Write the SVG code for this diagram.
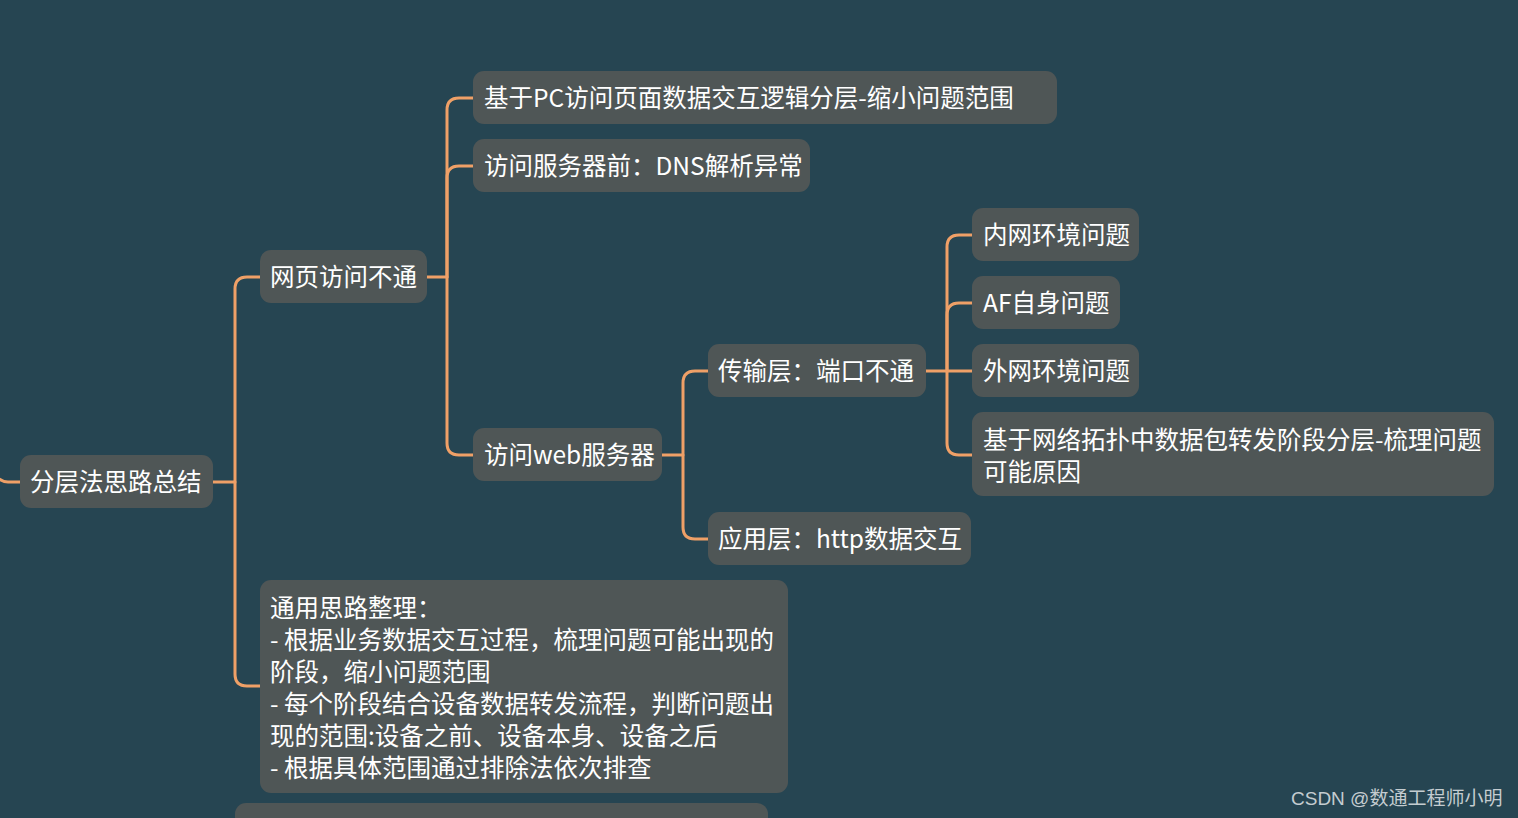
<svg xmlns="http://www.w3.org/2000/svg" width="1518" height="818" viewBox="0 0 1518 818">
<style>
.bg{fill:#264552}
.n{fill:#4f5656}
.t{font-family:"Noto Sans CJK SC","Noto Sans",sans-serif;font-size:24.5px;fill:#ffffff}
.c{fill:none;stroke:#efa067;stroke-width:3;stroke-linecap:round;stroke-linejoin:round}
.wm{font-family:"Liberation Sans","Noto Sans CJK SC",sans-serif;font-size:19px;fill:#c4ccd0}
</style>
<rect class="bg" x="0" y="0" width="1518" height="818"/>
<g id="connectors">
<path class="c" d="M-10,468 Q-2,482 8,482 H20"/>
<path class="c" d="M213,482 H235 V289 Q235,277 247,277 H260"/>
<path class="c" d="M235,482 V674 Q235,686 247,686 H260"/>
<path class="c" d="M427,277 H447 V110 Q447,98 459,98 H473"/>
<path class="c" d="M447,277 V178 Q447,166 459,166 H473"/>
<path class="c" d="M447,277 V443 Q447,455 459,455 H473"/>
<path class="c" d="M662,455 H683 V383 Q683,371 695,371 H708"/>
<path class="c" d="M683,455 V527 Q683,539 695,539 H708"/>
<path class="c" d="M926,371 H947 V247 Q947,235 959,235 H972"/>
<path class="c" d="M947,371 V315 Q947,303 959,303 H972"/>
<path class="c" d="M947,371 H972"/>
<path class="c" d="M947,371 V443 Q947,455 959,455 H972"/>
</g>
<g id="root"><rect class="n" x="20" y="455" width="193" height="53" rx="11"/><text class="t" x="30" y="491">分层法思路总结</text></g>
<g id="n-web-fail"><rect class="n" x="260" y="250" width="167" height="53" rx="11"/><text class="t" x="270" y="286">网页访问不通</text></g>
<g id="n-general"><rect class="n" x="260" y="580" width="528" height="213" rx="11"/>
<text class="t" x="270" y="617">通用思路整理：</text>
<text class="t" x="270" y="649">- 根据业务数据交互过程，梳理问题可能出现的</text>
<text class="t" x="270" y="681">阶段，缩小问题范围</text>
<text class="t" x="270" y="713">- 每个阶段结合设备数据转发流程，判断问题出</text>
<text class="t" x="270" y="745">现的范围:设备之前、设备本身、设备之后</text>
<text class="t" x="270" y="777">- 根据具体范围通过排除法依次排查</text>
</g>
<g id="n-bottom"><rect class="n" x="235" y="803" width="533" height="40" rx="11"/></g>
<g id="n-pc"><rect class="n" x="473" y="71" width="584" height="53" rx="11"/><text class="t" x="484" y="107">基于PC访问页面数据交互逻辑分层-缩小问题范围</text></g>
<g id="n-dns"><rect class="n" x="473" y="139" width="337" height="53" rx="11"/><text class="t" x="484" y="175">访问服务器前：DNS解析异常</text></g>
<g id="n-websrv"><rect class="n" x="473" y="428" width="189" height="53" rx="11"/><text class="t" x="484" y="464">访问web服务器</text></g>
<g id="n-transport"><rect class="n" x="708" y="344" width="218" height="53" rx="11"/><text class="t" x="718" y="380">传输层：端口不通</text></g>
<g id="n-app"><rect class="n" x="708" y="512" width="263" height="53" rx="11"/><text class="t" x="718" y="548">应用层：http数据交互</text></g>
<g id="n-inner"><rect class="n" x="972" y="208" width="167" height="53" rx="11"/><text class="t" x="983" y="244">内网环境问题</text></g>
<g id="n-af"><rect class="n" x="972" y="276" width="148" height="53" rx="11"/><text class="t" x="983" y="312">AF自身问题</text></g>
<g id="n-outer"><rect class="n" x="972" y="344" width="167" height="53" rx="11"/><text class="t" x="983" y="380">外网环境问题</text></g>
<g id="n-topo"><rect class="n" x="972" y="412" width="522" height="84" rx="11"/>
<text class="t" x="983" y="449">基于网络拓扑中数据包转发阶段分层-梳理问题</text>
<text class="t" x="983" y="481">可能原因</text>
</g>
<text class="wm" x="1291" y="805">CSDN @数通工程师小明</text>
</svg>
